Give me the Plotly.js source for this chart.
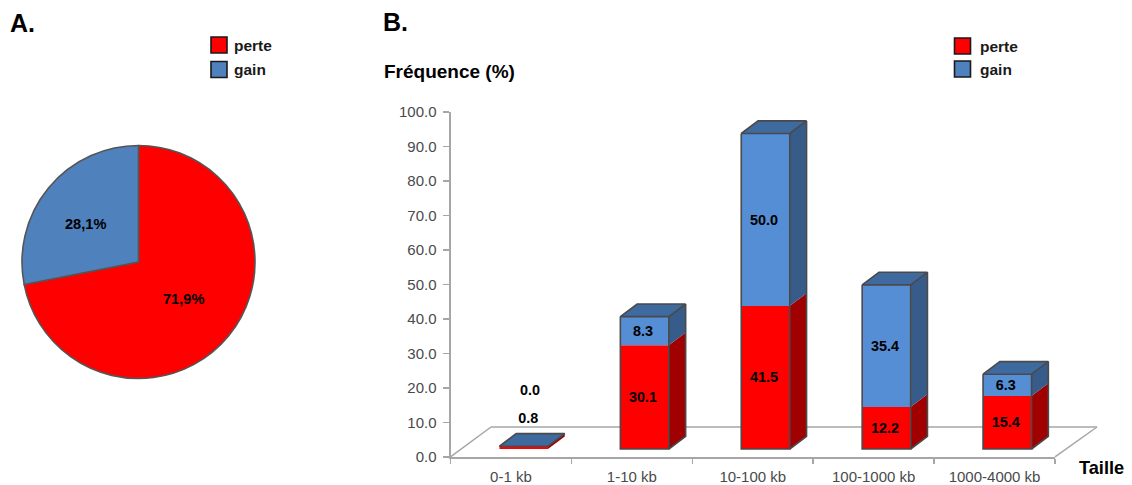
<!DOCTYPE html>
<html>
<head>
<meta charset="utf-8">
<script src="https://cdn.plot.ly/plotly-3.0.1.min.js"></script>
<style>html,body{margin:0;padding:0;background:#fff;overflow:hidden}</style>
</head>
<body>
<div id="chart" style="width:1132px;height:485px"></div>
<script>
// ---- data ----
const pieLabels = ['perte', 'gain'];
const pieValues = [71.9, 28.1];
const pieText = ['71,9%', '28,1%'];
const categories = ['0-1 kb', '1-10 kb', '10-100 kb', '100-1000 kb', '1000-4000 kb'];
const perte = [0.8, 30.1, 41.5, 12.2, 15.4];
const gain = [0.0, 8.3, 50.0, 35.4, 6.3];
const yTicks = [0, 10, 20, 30, 40, 50, 60, 70, 80, 90, 100];

// ---- styling / geometry ----
const W = 1132, H = 485;
const FONT = '"Liberation Sans", Arial, sans-serif';
const RED = '#FF0000', BLUE = '#558ED5', PIEBLUE = '#4F81BD';
const SIDE_RED = '#A00000', SIDE_BLUE = '#375C8A', TOP_BLUE = '#3E6AA0';
const EDGE = '#4A4A4A', AXIS = '#A6A6A6';
const px = v => v / W, py = v => 1 - v / H;
const axL = 450.5, axR = 1055, axT = 112, axB = 456.8;
const xUnit = (axR - axL) / categories.length, yUnit = (axB - axT) / 100;
const barW = 48.5 / xUnit, barOff = -11.5 / xUnit;
const depthX = 16.8 / xUnit, depthY = 12.6 / yUnit, lift = 7.8 / yUnit;

const x0 = categories.map((_, i) => i + barOff);
const x1 = x0.map(v => v + barW);
const yMid = perte.map(v => lift + v);
const yTop = perte.map((v, i) => lift + v + gain[i]);
const isEmpty = perte.map((v, i) => v + gain[i] < 2);

function poly(color, fn) {
  const xs = [], ys = [];
  categories.forEach((_, i) => {
    fn(i).forEach(p => { xs.push(p[0]); ys.push(p[1]); });
    xs.push(null); ys.push(null);
  });
  return { type: 'scatter', mode: 'none', x: xs, y: ys, xaxis: 'x', yaxis: 'y',
    fill: 'toself', fillcolor: color, line: { width: 0 }, hoverinfo: 'skip', showlegend: false, cliponaxis: false };
}
const sideRed = poly(SIDE_RED, i => [[x1[i], lift], [x1[i] + depthX, lift + depthY], [x1[i] + depthX, yMid[i] + depthY], [x1[i], yMid[i]]]);
const sideBlue = poly(SIDE_BLUE, i => [[x1[i], yMid[i]], [x1[i] + depthX, yMid[i] + depthY], [x1[i] + depthX, yTop[i] + depthY], [x1[i], yTop[i]]]);
const topFace = poly(TOP_BLUE, i => [[x0[i], yTop[i]], [x0[i] + depthX, yTop[i] + depthY], [x1[i] + depthX, yTop[i] + depthY], [x1[i], yTop[i]]]);

// outlines of each box (the empty column only keeps the outline of its lid)
const oX = [], oY = [];
function addPath(pts) {
  pts.forEach(p => { oX.push(p[0]); oY.push(p[1]); });
  oX.push(null); oY.push(null);
}
categories.forEach((_, i) => {
  const lidBack = [[x1[i], yTop[i]], [x1[i] + depthX, yTop[i] + depthY], [x0[i] + depthX, yTop[i] + depthY], [x0[i], yTop[i]], [x1[i], yTop[i]]];
  addPath(lidBack);
  if (!isEmpty[i]) {
    addPath([[x0[i], yTop[i]], [x0[i], lift], [x1[i], lift], [x1[i], yTop[i]]]);
    addPath([[x1[i], lift], [x1[i] + depthX, lift + depthY], [x1[i] + depthX, yTop[i] + depthY]]);
  }
});

const barCommon = { type: 'bar', x: categories.map((_, i) => i), width: barW, offset: barOff, hoverinfo: 'skip', showlegend: false };

// labels: centred in segment, except the near-empty first column
const labelLow = 9.1, labelHigh = 17.1, labelShift = 0.05, labelNudgeX = -1.5 / xUnit, labelNudgeY = -0.4;
const labelX = [], labelY = [], labelT = [];
categories.forEach((_, i) => {
  const c = i + barOff + barW / 2 + labelNudgeX;
  const empty = isEmpty[i];
  labelX.push(empty ? c + labelShift : c);
  labelY.push((empty ? lift + labelLow : lift + perte[i] / 2) + labelNudgeY);
  labelT.push(perte[i].toFixed(1));
  labelX.push(empty ? c + labelShift + 0.015 : c);
  labelY.push((empty ? lift + labelHigh : yMid[i] + gain[i] / 2) + labelNudgeY);
  labelT.push(gain[i].toFixed(1));
});

const data = [
  { type: 'pie', values: pieValues, labels: pieLabels, sort: false, direction: 'clockwise', rotation: 0,
    marker: { colors: [RED, PIEBLUE], line: { color: '#555555', width: 1.6 } },
    textinfo: 'none', hoverinfo: 'skip', showlegend: false,
    domain: { x: [px(22), px(255)], y: [py(379), py(145)] } },
  Object.assign({}, barCommon, { y: perte, base: categories.map(() => lift), marker: { color: RED, line: { width: 0 } } }),
  Object.assign({}, barCommon, { y: gain, base: yMid, marker: { color: BLUE, line: { width: 0 } } }),
  sideRed, sideBlue, topFace,
  { type: 'scatter', mode: 'lines', x: oX, y: oY, line: { color: EDGE, width: 1.6 }, hoverinfo: 'skip', showlegend: false, cliponaxis: false },
  { type: 'scatter', mode: 'text', x: labelX, y: labelY, text: labelT, textposition: 'middle center',
    textfont: { family: FONT, size: 14.4, color: '#000', weight: 'bold' }, hoverinfo: 'skip', showlegend: false, cliponaxis: false }
];

function swatch(xa, ya, color) {
  return { type: 'rect', xref: 'paper', yref: 'paper', x0: px(xa), x1: px(xa + 16), y0: py(ya + 16), y1: py(ya),
    fillcolor: color, line: { color: '#1A1A1A', width: 1.6 } };
}
function floorLine(a, b, c, d) {
  return { type: 'line', layer: 'below', xref: 'paper', yref: 'paper', x0: px(a), y0: py(b), x1: px(c), y1: py(d),
    line: { color: AXIS, width: 1.5 } };
}
function txt(s, x, y, size, anchor, color) {
  return { xref: 'paper', yref: 'paper', x: px(x), y: py(y), text: '<b>' + s + '</b>', showarrow: false,
    xanchor: anchor, yanchor: 'middle', font: { family: FONT, size: size, color: color || '#000' } };
}

const boundaries = [-0.5, 0.5, 1.5, 2.5, 3.5, 4.5];
const layout = {
  width: W, height: H, autosize: false,
  margin: { l: 0, r: 0, t: 0, b: 0, pad: 0 },
  paper_bgcolor: '#fff', plot_bgcolor: 'rgba(0,0,0,0)',
  showlegend: false, barmode: 'overlay', hovermode: false,
  xaxis: { domain: [px(axL), px(axR)], range: [-0.5, categories.length - 0.5], tickmode: 'array',
    tickvals: categories.map((_, i) => i), ticktext: categories, showgrid: false, zeroline: false,
    showline: true, linecolor: AXIS, linewidth: 2, ticks: '', ticklabelstandoff: 5,
    minor: { tickmode: 'array', tickvals: boundaries, ticks: 'outside', ticklen: 5, tickcolor: AXIS, tickwidth: 1.5, showgrid: false },
    tickfont: { family: FONT, size: 15, color: '#4A4A4A' }, fixedrange: true, anchor: 'y' },
  yaxis: { domain: [py(axB), py(axT)], range: [0, 100], tickmode: 'array', tickvals: yTicks,
    ticktext: yTicks.map(v => v.toFixed(1)), showgrid: false, zeroline: false,
    showline: true, linecolor: AXIS, linewidth: 2, ticks: 'outside', ticklen: 6, tickcolor: AXIS, tickwidth: 1.5,
    ticklabelstandoff: 3,
    tickfont: { family: FONT, size: 15, color: '#4A4A4A' }, fixedrange: true, anchor: 'x' },
  shapes: [
    floorLine(450.5, 456.8, 491, 427), floorLine(491, 427, 1097, 427), floorLine(1097, 427, 1055, 456.8),
    swatch(211, 37, RED), swatch(211, 61.5, PIEBLUE),
    swatch(954.5, 38, RED), swatch(954.5, 61, PIEBLUE)
  ],
  annotations: [
    txt('A.', 8, 23, 25, 'left'), txt('B.', 381, 22, 25, 'left'),
    txt('perte', 231.5, 45, 15.5, 'left', '#1a1a1a'), txt('gain', 231.5, 70, 15.5, 'left', '#1a1a1a'),
    txt('perte', 977.5, 46, 15.5, 'left', '#1a1a1a'), txt('gain', 977.5, 70, 15.5, 'left', '#1a1a1a'),
    txt('Fréquence (%)', 382, 71, 19, 'left'), txt('Taille', 1077, 468, 18.2, 'left'),
    txt(pieText[1], 85, 224, 14.6, 'center'), txt(pieText[0], 183.5, 299, 14.6, 'center')
  ]
};
Plotly.newPlot('chart', data, layout, { displayModeBar: false, staticPlot: true });
</script>
</body>
</html>
